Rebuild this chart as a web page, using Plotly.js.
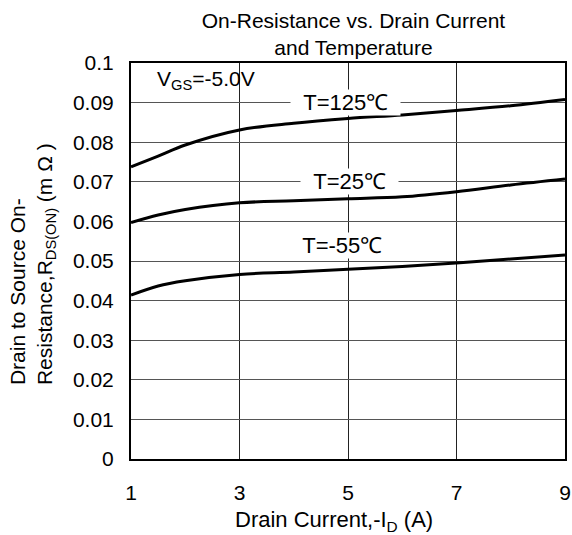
<!DOCTYPE html>
<html>
<head>
<meta charset="utf-8">
<script src="https://cdn.plot.ly/plotly-3.0.1.min.js"></script>
<style>html,body{margin:0;padding:0;background:#fff;}#chart{width:572px;height:535px;}</style>
</head>
<body>
<div id="chart"></div>
<script>
// Drain current -ID (A)
const currentA = [1, 1.5, 2, 3, 4, 5, 6, 7, 8, 9];
// On-resistance (mΩ axis as labelled) per temperature
const r125C = [0.0738, 0.0765, 0.0793, 0.0831, 0.0848, 0.0860, 0.0869, 0.0880, 0.0892, 0.0908];
const r25C  = [0.0597, 0.0616, 0.0630, 0.0647, 0.0652, 0.0657, 0.0662, 0.0675, 0.0692, 0.0707];
const rM55C = [0.0414, 0.0437, 0.0450, 0.0466, 0.0472, 0.0479, 0.0486, 0.0495, 0.0505, 0.0515];
const seriesNames = ["T=125℃", "T=25℃", "T=-55℃"];
const labelX = [4.95, 5.03, 4.90];
const labelY = [0.09, 0.07, 0.054];
const xTicks = [1, 3, 5, 7, 9];
const yTicks = [0, 0.01, 0.02, 0.03, 0.04, 0.05, 0.06, 0.07, 0.08, 0.09, 0.1];
const yTickText = ["0", "0.01", "0.02", "0.03", "0.04", "0.05", "0.06", "0.07", "0.08", "0.09", "0.1"];

const FONT = "Liberation Sans, Arial, sans-serif";
const allSeries = [r125C, r25C, rM55C];
const traces = allSeries.map((ys, i) => ({
  x: currentA, y: ys, name: seriesNames[i], type: "scatter", mode: "lines",
  line: {color: "#000", width: 3, shape: "spline", smoothing: 1}
}));

const annotations = seriesNames.map((t, i) => ({
  x: labelX[i], y: labelY[i], xref: "x", yref: "y",
  text: "&nbsp;&nbsp;" + t + "&nbsp;&nbsp;", showarrow: false,
  bgcolor: "#fff", borderpad: 0, font: {family: FONT, size: 22, color: "#000"},
  xanchor: "center", yanchor: "middle"
}));
annotations.push({
  x: 1.44, y: 0.0956, xref: "x", yref: "y", xanchor: "left", yanchor: "middle",
  text: "V<sub>GS</sub>=-5.0V", showarrow: false, font: {family: FONT, size: 21, color: "#000"}
});
annotations.push({
  x: 0.468, y: -0.157, xref: "paper", yref: "paper", xanchor: "center", yanchor: "middle",
  text: "Drain Current,-I<sub>D</sub> (A)", showarrow: false, font: {family: FONT, size: 22, color: "#000"}
});
annotations.push({
  x: -0.226, y: 0.492, xref: "paper", yref: "paper", xanchor: "center", yanchor: "middle",
  textangle: -90, align: "left",
  text: "Drain to Source On-<br>Resistance,R<sub>DS(ON)</sub> (m Ω )", showarrow: false,
  font: {family: FONT, size: 21, color: "#000"}
});

const layout = {
  width: 572, height: 535,
  margin: {l: 131, r: 7, t: 63, b: 76},
  paper_bgcolor: "#fff", plot_bgcolor: "#fff",
  showlegend: false,
  font: {family: FONT, size: 20, color: "#000"},
  title: {
    text: "On-Resistance vs. Drain Current<br>and Temperature",
    font: {family: FONT, size: 21, color: "#000"},
    x: 0.618, xanchor: "center", y: 0.948, yanchor: "middle"
  },
  xaxis: {
    range: [1, 9], tickvals: xTicks, ticktext: xTicks.map(String),
    showgrid: true, gridcolor: "#222", gridwidth: 1,
    showline: true, linecolor: "#000", linewidth: 2, mirror: true,
    ticks: "outside", ticklen: 14, tickcolor: "rgba(0,0,0,0)",
    zeroline: false, tickfont: {family: FONT, size: 21, color: "#000"}
  },
  yaxis: {
    range: [0, 0.1], tickvals: yTicks, ticktext: yTickText,
    showgrid: true, gridcolor: "#555", gridwidth: 1,
    showline: true, linecolor: "#000", linewidth: 2, mirror: true,
    ticks: "outside", ticklen: 11, tickcolor: "rgba(0,0,0,0)",
    zeroline: false, tickfont: {family: FONT, size: 21, color: "#000"}
  },
  annotations: annotations
};

Plotly.newPlot("chart", traces, layout, {displayModeBar: false, staticPlot: true});
</script>
</body>
</html>
